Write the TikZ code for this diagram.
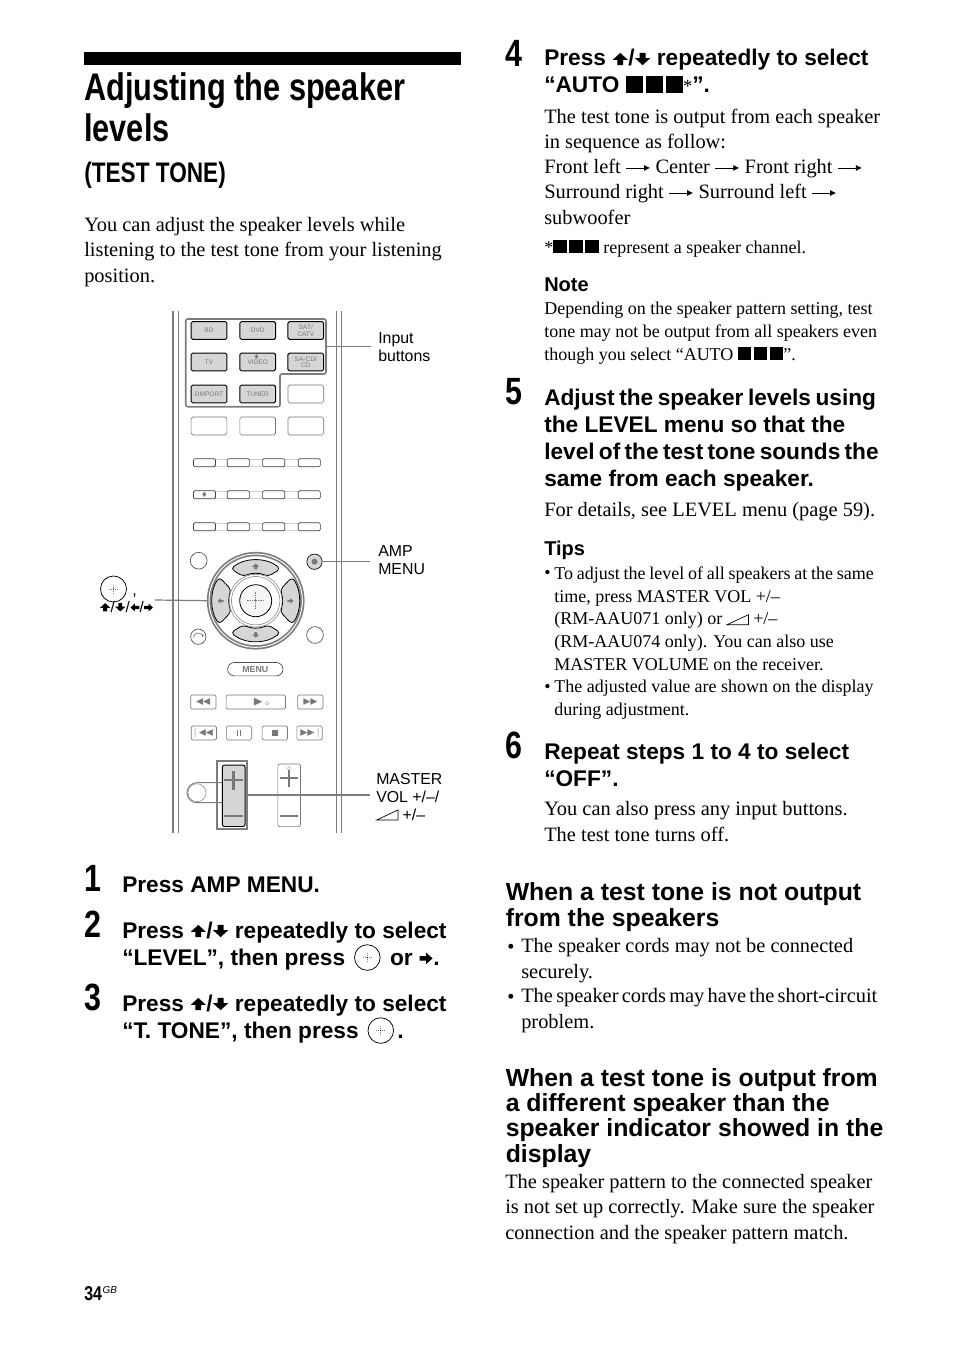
\documentclass[tikz,border=0pt]{standalone}
\usepackage{amsmath, amssymb}
\usepackage{fontspec}
\setmainfont{Liberation Serif}
\setsansfont{Liberation Sans}
\newfontfamily\condfont[FakeStretch=0.8]{Liberation Sans}
\usetikzlibrary{arrows.meta, positioning}
\definecolor{keygray}{RGB}{214,214,216}
\definecolor{railgray}{RGB}{125,125,125}
\definecolor{printgray}{RGB}{120,120,120}
%inline glyphs
\newcommand{\keyup}{\tikz[baseline=-.02em,x=.098em,y=.09em]{\useasboundingbox (-3.6,0) rectangle (3.6,6.4);\fill (0,6.2) -- (3.4,2.8) -- (1.3,2.8) -- (1.3,.2) -- (-1.3,.2) -- (-1.3,2.8) -- (-3.4,2.8) -- cycle;}}
\newcommand{\keydown}{\tikz[baseline=-.02em,x=.098em,y=.09em]{\useasboundingbox (-3.6,0) rectangle (3.6,6.4);\fill (0,.2) -- (3.4,3.6) -- (1.3,3.6) -- (1.3,6.2) -- (-1.3,6.2) -- (-1.3,3.6) -- (-3.4,3.6) -- cycle;}}
\newcommand{\keyright}{\tikz[baseline=-.02em,x=.09em,y=.085em]{\useasboundingbox (0,0) rectangle (7,6.4);\fill (6.6,3.2) -- (3.4,6.2) -- (3.4,4.4) -- (.2,4.4) -- (.2,2) -- (3.4,2) -- (3.4,.2) -- cycle;}}
\newcommand{\keyleft}{\tikz[baseline=-.02em,x=.09em,y=.085em]{\useasboundingbox (0,0) rectangle (7,6.4);\fill (.4,3.2) -- (3.6,6.2) -- (3.6,4.4) -- (6.8,4.4) -- (6.8,2) -- (3.6,2) -- (3.6,.2) -- cycle;}}
\newcommand{\nexttone}{\tikz[baseline=-.02em]{\draw[line width=.55pt,-{Latex[length=4.5pt,width=4.5pt]}] (0,.27em) -- (1.17em,.27em);}}
\newcommand{\okkey}{\kern2pt\smash{\tikz[baseline=-.33em]{\draw[line width=.55pt] (0,0) circle (9.6pt);\draw[line width=.5pt,gray,densely dotted] (-3.4pt,0) -- (3.4pt,0) (0,-3.4pt) -- (0,3.4pt);\fill (0,0) circle (.5pt);}}\kern2.5pt}
\newcommand{\chan}{\rule{.75em}{.75em}\kern.14em\rule{.75em}{.75em}\kern.14em\rule{.75em}{.75em}}
\newcommand{\rampkey}{\tikz[baseline=0pt]{\draw[line width=.5pt] (0,0) -- (16pt,0) -- (16pt,7.5pt) -- cycle;}}
\newcommand{\dpadkey}[5]{\draw[black, line width=.6pt, fill=keygray, rounded corners=3pt] (#1-#3:#2) arc[start angle=#1-#3, end angle=#1+#3, radius=#2] -- (#1+#5:#4) arc[start angle=#1+#5, end angle=#1-#5, radius=#4] -- cycle;}
\tikzstyle{bodytext} = [anchor=base west, inner sep=0pt, align=left, font=\fontsize{15.3pt}{18.8pt}\selectfont]
\tikzstyle{smalltext} = [anchor=base west, inner sep=0pt, align=left, font=\fontsize{13.5pt}{17pt}\selectfont]
\tikzstyle{stephead} = [anchor=base west, inner sep=0pt, align=left, font=\fontsize{17pt}{20.25pt}\selectfont\sffamily\bfseries]
\tikzstyle{sidehead} = [anchor=base west, inner sep=0pt, align=left, font=\fontsize{18.6pt}{18.8pt}\selectfont\sffamily\bfseries]
\tikzstyle{tiphead} = [anchor=base west, inner sep=0pt, font=\fontsize{15pt}{15pt}\selectfont\sffamily\bfseries]
\tikzstyle{stepnum} = [anchor=base west, inner sep=0pt, font=\fontsize{28.5pt}{28.5pt}\selectfont\condfont\bfseries]
\tikzstyle{keylabel} = [anchor=base west, inner sep=0pt, align=left, font=\fontsize{11.9pt}{13.5pt}\selectfont\sffamily]
\tikzstyle{inputkey} = [rectangle, rounded corners=1.2pt, minimum width=26.8pt, minimum height=13.4pt, inner sep=0pt, align=center, draw=black, line width=.7pt, fill=keygray, text=printgray, font=\fontsize{4.9pt}{4.9pt}\selectfont\sffamily]
\tikzstyle{blankkey} = [rectangle, rounded corners=1.2pt, minimum width=26.8pt, minimum height=13.4pt, inner sep=0pt, draw=printgray, line width=.5pt, fill=white]
\tikzstyle{slimkey} = [rectangle, rounded corners=1pt, minimum width=16.6pt, minimum height=6pt, inner sep=0pt, draw=black!75, line width=.5pt, fill=white]
\tikzstyle{playkey} = [rectangle, rounded corners=1pt, minimum width=19pt, minimum height=10.4pt, inner sep=0pt, draw=printgray, line width=.5pt, fill=white, text=printgray, font=\fontsize{7.5pt}{7.5pt}\selectfont]
\tikzstyle{roundkey} = [circle, minimum size=12.6pt, inner sep=0pt, draw=black!70, line width=.5pt, fill=white]
\tikzstyle{rail} = [railgray, line width=1.2pt]
\tikzstyle{leader} = [railgray, line width=.9pt]
\begin{document}
\begin{tikzpicture}[x=.75pt,y=-.75pt]
\useasboundingbox (0,0) rectangle (954,1352);
%left column title
\fill (84,52) rectangle (461,65);
\node[anchor=base west, inner sep=0pt, align=left, font=\fontsize{28.8pt}{30.8pt}\selectfont\condfont\bfseries] (title) at (84,142) {Adjusting the speaker\\levels};
\node[anchor=base west, inner sep=0pt, font=\fontsize{21.2pt}{21.2pt}\selectfont\condfont\bfseries] (subtitle) at (84,183) {(TEST TONE)};
\node[bodytext] (intro) at (84,282) {You can adjust the speaker levels while\\listening to the test tone from your listening\\position.};

%remote rails
\draw[rail] (173,311) -- (173,833);
\draw[rail, line width=.7pt] (178,311) -- (178,833);
\draw[rail, line width=.7pt] (336,311) -- (336,833);
\draw[rail] (341.5,311) -- (341.5,833);

%input buttons
\node[inputkey] (bd) at (209,330.5) {BD};
\node[inputkey] (dvd) at (257.7,330.5) {DVD};
\node[inputkey] (sat) at (305.8,330.5) {SAT/\\CATV};
\node[inputkey] (tv) at (209,362) {TV};
\node[inputkey] (video) at (257.7,362) {VIDEO};
\node[inputkey] (sacd) at (305.8,362) {SA-CD/\\CD};
\node[inputkey] (dmport) at (209,394) {DMPORT};
\node[inputkey] (tuner) at (257.7,394) {TUNER};
\node[inner sep=0pt, text=printgray, font=\fontsize{4pt}{4pt}\selectfont] (videodot) at (256.7,356.7) {$\blacklozenge$};
\node[blankkey] (blanka) at (305.8,394) {};
\node[blankkey] (blankb) at (209,426) {};
\node[blankkey] (blankc) at (257.7,426) {};
\node[blankkey] (blankd) at (305.8,426) {};
\draw[railgray, line width=1.2pt, rounded corners=1.5pt] (185.7,319) -- (326,319) -- (326,374) -- (280,374) -- (280,406.7) -- (185.7,406.7) -- cycle;

%slim buttons
\draw[gray!35, line width=.4pt] (204,459.5) -- (310,459.5) (204,466) -- (310,466) (204,491.5) -- (310,491.5) (204,498) -- (310,498) (204,523.5) -- (310,523.5) (204,530) -- (310,530);
\node[slimkey] (slima) at (204.5,462.7) {};
\node[slimkey] (slimb) at (238.3,462.7) {};
\node[slimkey] (slimc) at (273.7,462.7) {};
\node[slimkey] (slimd) at (309.3,462.7) {};
\node[slimkey, text=printgray, font=\fontsize{4.5pt}{4.5pt}\selectfont] (slime) at (204.5,494.8) {$\blacklozenge$};
\node[slimkey] (slimf) at (238.3,494.8) {};
\node[slimkey] (slimg) at (273.7,494.8) {};
\node[slimkey] (slimh) at (309.3,494.8) {};
\node[slimkey] (slimi) at (204.5,526.8) {};
\node[slimkey] (slimj) at (238.3,526.8) {};
\node[slimkey] (slimk) at (273.7,526.8) {};
\node[slimkey] (sliml) at (309.3,526.8) {};

%round buttons
\node[roundkey] (rounda) at (198.7,560.7) {};
\node[roundkey, fill=keygray, draw=black, minimum size=11.5pt] (amp) at (314.5,561.7) {};
\fill[printgray] (amp) circle (3);
\node[roundkey, minimum size=11.5pt] (back) at (198.3,636.7) {};
\draw[printgray, line width=.5pt, -{Latex[length=2pt,width=2pt]}] (193.5,637.5) arc[start angle=180,end angle=360,radius=4.6];
\node[roundkey] (roundb) at (315,635) {};

%wheel
\node[circle, minimum size=70pt, inner sep=0pt, draw=railgray, line width=1.3pt, double=white, double distance=.7pt] (wheel) at (255.7,600.7) {};
\begin{scope}[shift={(255.7,600.7)}]
\dpadkey{270}{40.5}{38}{27}{27}
\dpadkey{90}{40.5}{38}{27}{27}
\dpadkey{180}{43.5}{33}{26.5}{24}
\dpadkey{0}{43.5}{33}{26.5}{24}
\end{scope}
\node[circle, minimum size=38pt, inner sep=0pt, draw=gray, line width=.5pt, double=white, double distance=1.1pt] (hub) at (255.7,600.7) {};
\node[circle, minimum size=24pt, inner sep=0pt, draw=black, line width=.6pt, fill=gray!8] (ok) at (255.7,600.7) {};
\draw[printgray, line width=.4pt, densely dotted] (246.5,600.7) -- (265,600.7) (255.7,591.5) -- (255.7,610);
\fill[printgray] (ok) circle (.9);
\node[inner sep=0pt, text=printgray, font=\fontsize{8pt}{8pt}\selectfont] (arrown) at (255.7,566.5) {\keyup};
\node[inner sep=0pt, text=printgray, font=\fontsize{8pt}{8pt}\selectfont] (arrows) at (255.7,635) {\keydown};
\node[inner sep=0pt, text=printgray, font=\fontsize{8pt}{8pt}\selectfont] (arroww) at (220.5,601) {\keyleft};
\node[inner sep=0pt, text=printgray, font=\fontsize{8pt}{8pt}\selectfont] (arrowe) at (290.5,601) {\keyright};

%menu and transport
\node[rectangle, rounded corners=5pt, minimum width=41.5pt, minimum height=10pt, inner sep=0pt, draw=black!70, line width=.5pt, text=printgray, font=\fontsize{6.6pt}{6.6pt}\selectfont\sffamily\bfseries] (menu) at (255.3,669.2) {MENU};
\node[playkey] (rewind) at (203.4,702) {$\blacktriangleleft\!\blacktriangleleft$};
\node[playkey, minimum width=44.5pt] (play) at (255.8,702) {\kern8pt\fontsize{10pt}{10pt}\selectfont$\blacktriangleright$\kern1pt{\fontsize{4pt}{4pt}\selectfont$\diamond$}};
\node[playkey] (forward) at (310.3,702) {$\blacktriangleright\!\blacktriangleright$};
\node[playkey] (prev) at (203.9,733) {$|\!\blacktriangleleft\!\blacktriangleleft$};
\node[playkey] (pause) at (239,733) {\rule{1.2pt}{4.5pt}\kern1pt\rule{1.2pt}{4.5pt}};
\node[playkey] (stop) at (274.8,733) {\rule{4.5pt}{4.5pt}};
\node[playkey] (next) at (309.5,733) {$\blacktriangleright\!\blacktriangleright\!|$};

%volume
\draw[railgray, line width=.7pt] (222,782.7) -- (197,782.7) arc[start angle=270, end angle=90, radius=10] -- (222,802.7);
\node[roundkey, minimum size=13.5pt, draw=gray!80] (volround) at (197,792.7) {};
\node[rectangle, minimum width=23pt, minimum height=51pt, inner sep=0pt, draw=railgray, line width=1.3pt] (volframe) at (232,794.7) {};
\node[rectangle, rounded corners=1.5pt, minimum width=17pt, minimum height=46pt, inner sep=0pt, draw=black, line width=.7pt, fill=keygray] (volmaster) at (233.7,795.8) {};
\draw[printgray, line width=1.6pt] (224,780) -- (243,780) (233.5,770.5) -- (233.5,789.5) (224,816) -- (243,816);
\node[rectangle, rounded corners=1.5pt, minimum width=17pt, minimum height=47pt, inner sep=0pt, draw=printgray, line width=.5pt] (voltv) at (289.2,795.3) {};
\draw[printgray, line width=1.4pt] (280,778) -- (298,778) (289,769.5) -- (289,787) (280,816) -- (298,816);
\draw[printgray, line width=.4pt] (278,794) -- (300.5,794);
\node[inner sep=0pt, text=printgray, font=\fontsize{4pt}{4pt}\selectfont] (voldot) at (289,769) {$\diamond$};

%callouts
\node[keylabel] (inputlabel) at (378,361) {Input\\buttons};
\node[keylabel] (amplabel) at (378,574) {AMP\\MENU};
\node[keylabel] (vollabel) at (376,820) {MASTER\\VOL +/--/\\\rampkey{} +/--};
\node[circle, minimum size=19.5pt, inner sep=0pt, draw=black, line width=.55pt] (cursorok) at (113.5,589) {};
\draw[line width=.5pt, gray, densely dotted] (109,589) -- (118,589) (113.5,584.5) -- (113.5,593.5);
\fill (cursorok) circle (.7);
\node[anchor=base west, inner sep=0pt, font=\fontsize{12pt}{12pt}\selectfont\sffamily] (cursorcomma) at (132,595) {,};
\node[anchor=base west, inner sep=0pt, font=\fontsize{11.5pt}{11.5pt}\selectfont\sffamily] (cursorkeys) at (99.5,612) {\keyup/\keydown/\keyleft/\keyright};
\coordinate (inputend) at (370.7,346.7);
\coordinate (inputstart) at (326,346.7);
\coordinate (ampend) at (370,561.7);
\coordinate (wheelend) at (155,600);
\coordinate (volend) at (370,795);
\coordinate (volstart) at (247.3,795);
\draw[leader] (inputstart) -- (inputend);
\draw[leader] (amp) -- (ampend);
\draw[leader] (wheelend) -- (wheel.west);
\draw[leader] (volstart) -- (volend);

%steps 1 to 3
\node[stepnum] (numa) at (84,891.5) {1};
\node[stephead] (stepa) at (122,892) {Press AMP MENU.};
\node[stepnum] (numb) at (84,937.5) {2};
\node[stephead] (stepb) at (122,965) {Press \keyup/\keydown{} repeatedly to select\\“LEVEL”, then press \okkey{} or \keyright.};
\node[stepnum] (numc) at (84,1010.5) {3};
\node[stephead] (stepc) at (122,1038) {Press \keyup/\keydown{} repeatedly to select\\“T. TONE”, then press \okkey{}.};

%page number
\node[anchor=base west, inner sep=0pt, font=\fontsize{15pt}{15pt}\selectfont\condfont\bfseries] (pagenum) at (84,1300) {34};
\node[inner sep=0pt, font=\fontsize{7.5pt}{7.5pt}\selectfont\sffamily\itshape, right=0pt of pagenum.base east, anchor=base west, yshift=5pt] (pagegb) {GB};

%step 4
\node[stepnum] (numd) at (505,66.5) {4};
\node[stephead] (stepd) at (544,93) {Press \keyup/\keydown{} repeatedly to select\\“AUTO \chan{\normalfont\fontsize{14pt}{14pt}\selectfont *}”.};
\node[bodytext] (stepdtext) at (544,224) {The test tone is output from each speaker\\in sequence as follow:\\Front left \nexttone{} Center \nexttone{} Front right \nexttone\\Surround right \nexttone{} Surround left \nexttone\\subwoofer};
\node[anchor=base west, inner sep=0pt, font=\fontsize{13.5pt}{15pt}\selectfont] (stepdnote) at (544,253) {*\chan{} represent a speaker channel.};
\node[tiphead] (notehead) at (544,291) {Note};
\node[smalltext] (notetext) at (544,360) {Depending on the speaker pattern setting, test\\tone may not be output from all speakers even\\though you select “AUTO \chan”.};

%step 5
\node[stepnum] (nume) at (505,404.5) {5};
\node[stephead] (stepe) at (544,486) {{\spaceskip=.2em Adjust the speaker levels using}\\the LEVEL menu so that the\\{\spaceskip=.19em level of the test tone sounds the}\\same from each speaker.};
\node[bodytext] (stepetext) at (544,516) {For details, see LEVEL menu (page 59).};
\node[tiphead] (tipshead) at (544,555) {Tips};
\node[smalltext, anchor=base east] (tipbulleta) at (551,578) {•};
\node[smalltext] (tiptexta) at (554,670) {{\spaceskip=.21em To adjust the level of all speakers at the same}\\time, press MASTER VOL +/--\\(RM-AAU071 only) or \rampkey{} +/--\\(RM-AAU074 only). You can also use\\MASTER VOLUME on the receiver.};
\node[smalltext, anchor=base east] (tipbulletb) at (551,692) {•};
\node[smalltext] (tiptextb) at (554,715) {The adjusted value are shown on the display\\during adjustment.};

%step 6
\node[stepnum] (numf) at (505,758.5) {6};
\node[stephead] (stepf) at (544,786) {Repeat steps 1 to 4 to select\\“OFF”.};
\node[bodytext] (stepftext) at (544,841) {You can also press any input buttons.\\The test tone turns off.};

%troubleshooting
\node[sidehead] (whena) at (505.5,926) {When a test tone is not output\\from the speakers};
\node[bodytext] (bulleta) at (507,953) {•};
\node[bodytext] (causea) at (521,978) {The speaker cords may not be connected\\securely.};
\node[bodytext] (bulletb) at (507,1003) {•};
\node[bodytext] (causeb) at (521,1028) {{\spaceskip=.16em The speaker cords may have the short-circuit}\\problem.};
\node[sidehead] (whenb) at (505.5,1162) {When a test tone is output from\\a different speaker than the\\speaker indicator showed in the\\display};
\node[bodytext] (whenbtext) at (505,1239) {The speaker pattern to the connected speaker\\is not set up correctly. Make sure the speaker\\connection and the speaker pattern match.};
\end{tikzpicture}
\end{document}
